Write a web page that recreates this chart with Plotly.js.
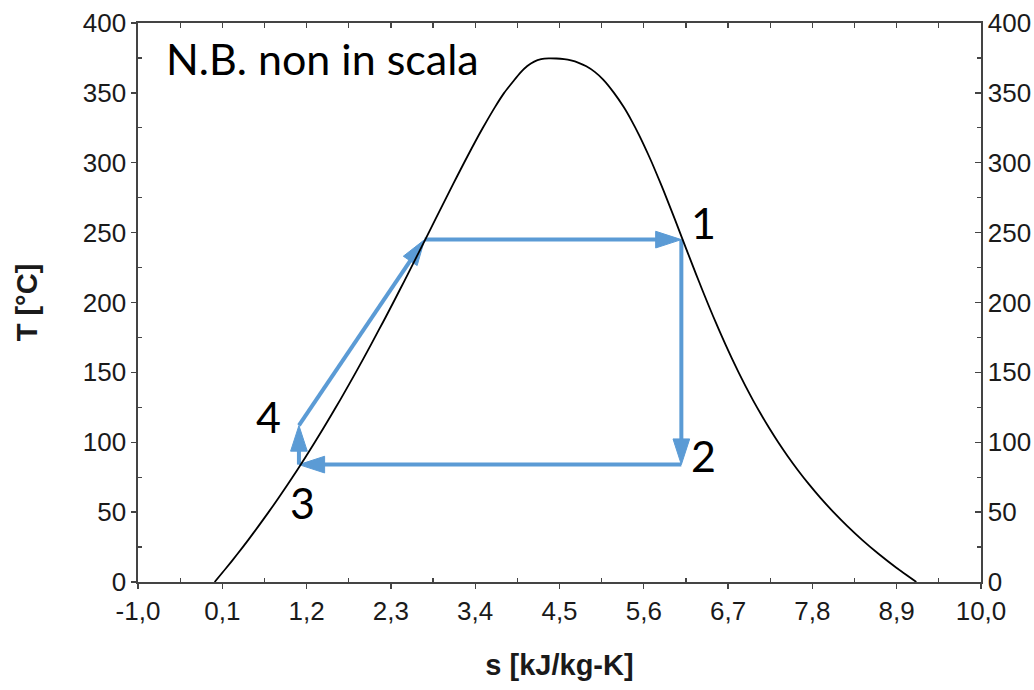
<!DOCTYPE html>
<html>
<head>
<meta charset="utf-8">
<script src="https://cdn.plot.ly/plotly-3.0.1.min.js"></script>
<style>html,body{margin:0;padding:0;background:#fff;}#chart{width:1034px;height:690px;}</style>
</head>
<body>
<div id="chart"></div>
<script>
// Saturation dome (water): entropy s [kJ/kg-K], temperature T [°C]
const domeS = [0.000,0.151,0.297,0.437,0.572,0.704,0.831,0.955,1.076,1.193,1.307,1.419,1.528,1.635,1.739,1.842,1.943,2.042,2.139,2.236,2.331,2.425,2.518,2.610,2.702,2.794,2.885,2.977,3.069,3.161,3.255,3.351,3.449,3.552,3.660,3.778,3.900,3.990,4.080,4.170,4.260,4.360,4.460,4.560,4.650,4.750,4.850,4.960,5.070,5.211,5.336,5.442,5.537,5.624,5.706,5.783,5.858,5.930,6.002,6.072,6.142,6.213,6.284,6.356,6.430,6.506,6.584,6.665,6.749,6.837,6.929,7.026,7.129,7.238,7.354,7.478,7.611,7.754,7.908,8.075,8.256,8.452,8.666,8.900,9.156];
const domeT = [0.01,10,20,30,40,50,60,70,80,90,100,110,120,130,140,150,160,170,180,190,200,210,220,230,240,250,260,270,280,290,300,310,320,330,340,350,358.5,364.5,369.2,372.4,374.1,374.7,374.6,374.1,373.2,371.5,369,365,359.5,350,340,330,320,310,300,290,280,270,260,250,240,230,220,210,200,190,180,170,160,150,140,130,120,110,100,90,80,70,60,50,40,30,20,10,0.01];

// Cycle path 1 -> 2 -> 3 -> 4 -> (saturated liquid) -> 1
const cycleS = [6.09, 6.09, 1.10, 1.10, 2.74, 6.09];
const cycleT = [245, 84, 84, 112, 245, 245];

// State labels
const stateNames = ["1", "2", "3", "4"];
const stateS = [6.09, 6.09, 1.10, 1.10];
const stateT = [245, 84, 84, 112];
const stateDx = [22, 22, 4, -30];
const stateDy = [17, 9, -38, 9];

// Tick labels
const sTickVals = [-1.0, 0.1, 1.2, 2.3, 3.4, 4.5, 5.6, 6.7, 7.8, 8.9, 10.0];
const sTickText = ["-1,0", "0,1", "1,2", "2,3", "3,4", "4,5", "5,6", "6,7", "7,8", "8,9", "10,0"];
const sMinorVals = [-0.45, 0.65, 1.75, 2.85, 3.95, 5.05, 6.15, 7.25, 8.35, 9.45];
const TTickVals = [0, 50, 100, 150, 200, 250, 300, 350, 400];
const TMinorVals = [25, 75, 125, 175, 225, 275, 325, 375];

const noteText = "N.B. non in scala";

const blue = "#5b9bd5";
const axisColor = "#444444";
const tickFont = {family: "Liberation Sans, Arial, sans-serif", size: 26, color: "#1a1a1a"};
const titleFont = {family: "Liberation Sans, Arial, sans-serif", size: 29, color: "#1a1a1a", weight: "bold"};
const noteFont = {family: "Lato, Carlito, Calibri, sans-serif", size: 43, color: "#000"};

const traces = [
  {
    x: domeS, y: domeT, type: "scatter", mode: "lines", xaxis: "x2", yaxis: "y2",
    line: {color: "#000", width: 1.8, shape: "spline", smoothing: 0.6}, hoverinfo: "skip", showlegend: false
  },
  {
    x: cycleS, y: cycleT, type: "scatter", mode: "lines+markers",
    line: {color: blue, width: 4},
    marker: {
      color: blue, opacity: 1, symbol: "arrow", angleref: "previous",
      line: {color: blue, width: 1},
      size: cycleS.map((v, i) => i === 0 ? 0 : 27)
    },
    hoverinfo: "skip", showlegend: false
  }
];

const annotations = stateNames.map((t, i) => ({
  x: stateS[i], y: stateT[i], xref: "x", yref: "y",
  text: t, showarrow: false, xshift: stateDx[i], yshift: stateDy[i],
  font: noteFont
}));
annotations.push({
  x: 0.031, y: 0.936, xref: "paper", yref: "paper", xanchor: "left", yanchor: "middle",
  text: noteText, showarrow: false, font: noteFont
});

const commonAxis = {
  showgrid: false, zeroline: false, showline: true,
  linecolor: axisColor, linewidth: 1.6,
  tickcolor: axisColor, tickwidth: 1.3, tickfont: tickFont
};

const layout = {
  width: 1034, height: 690,
  margin: {l: 138, r: 53, t: 23, b: 108},
  paper_bgcolor: "#fff", plot_bgcolor: "#fff",
  showlegend: false,
  xaxis: Object.assign({}, commonAxis, {
    range: [-1, 10], tickmode: "array", tickvals: sTickVals, ticktext: sTickText,
    ticks: "outside", ticklen: 5,
    minor: {tickmode: "array", tickvals: sMinorVals, ticks: "inside", ticklen: 4, tickcolor: axisColor, tickwidth: 1.2},
    title: {text: "s [kJ/kg-K]", font: titleFont, standoff: 30}
  }),
  yaxis: Object.assign({}, commonAxis, {
    range: [0, 400], tickmode: "array", tickvals: TTickVals,
    ticks: "outside", ticklen: 5,
    minor: {tickmode: "array", tickvals: TMinorVals, ticks: "inside", ticklen: 4, tickcolor: axisColor, tickwidth: 1.2},
    title: {text: "T [°C]", font: titleFont, standoff: 36}
  }),
  xaxis2: Object.assign({}, commonAxis, {
    overlaying: "x", side: "top", anchor: "y", range: [-1, 10],
    tickmode: "array", tickvals: sTickVals, showticklabels: false,
    ticks: "inside", ticklen: 5,
    minor: {tickmode: "array", tickvals: sMinorVals, ticks: "inside", ticklen: 5, tickcolor: axisColor, tickwidth: 1.2}
  }),
  yaxis2: Object.assign({}, commonAxis, {
    overlaying: "y", side: "right", anchor: "x", range: [0, 400],
    tickmode: "array", tickvals: TTickVals, showticklabels: true,
    ticks: "inside", ticklen: 6,
    minor: {tickmode: "array", tickvals: TMinorVals, ticks: "inside", ticklen: 4, tickcolor: axisColor, tickwidth: 1.2}
  }),
  annotations: annotations
};

Plotly.newPlot("chart", traces, layout, {displayModeBar: false, staticPlot: true});
</script>
</body>
</html>
